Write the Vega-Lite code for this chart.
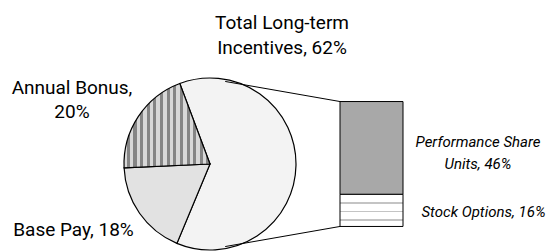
{
  "$schema": "https://vega.github.io/schema/vega-lite/v6.json",
  "width": 551,
  "height": 251,
  "autosize": {"type": "fit", "contains": "padding"},
  "padding": 0,
  "background": "white",
  "config": {"view": {"stroke": null}},
  "datasets": {
    "slices": [
      {"category": "Total Long-term Incentives", "value": 62, "label": ["Total Long-term", "Incentives, 62%"]},
      {"category": "Base Pay", "value": 18, "label": ["Base Pay, 18%"]},
      {"category": "Annual Bonus", "value": 20, "label": ["Annual Bonus,", "20%"]}
    ],
    "lti": [
      {"component": "Stock Options", "value": 16, "label": ["Stock Options, 16%"]},
      {"component": "Performance Share Units", "value": 46, "label": ["Performance Share", "Units, 46%"]}
    ]
  },
  "layer": [
    {
      "data": {"name": "slices"},
      "mark": {"type": "arc", "outerRadius": 86, "stroke": "black", "strokeWidth": 1.2},
      "encoding": {
        "theta": {"field": "value", "type": "quantitative", "stack": true, "scale": {"range": [-0.3588, 5.9244]}},
        "x": {"datum": 210, "type": "quantitative", "scale": {"domain": [0, 551], "nice": false, "zero": false}, "axis": null},
        "y": {"datum": 31, "type": "quantitative", "scale": {"domain": [-9.2, 112.4], "nice": false, "zero": false}, "axis": null},
        "fill": {
          "condition": [
            {"test": "datum.category === 'Annual Bonus'", "value": {
              "gradient": "linear", "x1": 0, "y1": 0, "x2": 1, "y2": 0,
              "stops": [
                {"offset": 0, "color": "#d8d8d8"},
                {"offset": 0.0314, "color": "#d8d8d8"}, {"offset": 0.0314, "color": "#858585"}, {"offset": 0.0686, "color": "#858585"}, {"offset": 0.0686, "color": "#d8d8d8"},
                {"offset": 0.1087, "color": "#d8d8d8"}, {"offset": 0.1087, "color": "#858585"}, {"offset": 0.1459, "color": "#858585"}, {"offset": 0.1459, "color": "#d8d8d8"},
                {"offset": 0.1860, "color": "#d8d8d8"}, {"offset": 0.1860, "color": "#858585"}, {"offset": 0.2233, "color": "#858585"}, {"offset": 0.2233, "color": "#d8d8d8"},
                {"offset": 0.2634, "color": "#d8d8d8"}, {"offset": 0.2634, "color": "#858585"}, {"offset": 0.3006, "color": "#858585"}, {"offset": 0.3006, "color": "#d8d8d8"},
                {"offset": 0.3407, "color": "#d8d8d8"}, {"offset": 0.3407, "color": "#858585"}, {"offset": 0.3779, "color": "#858585"}, {"offset": 0.3779, "color": "#d8d8d8"},
                {"offset": 0.4180, "color": "#d8d8d8"}, {"offset": 0.4180, "color": "#858585"}, {"offset": 0.4552, "color": "#858585"}, {"offset": 0.4552, "color": "#d8d8d8"},
                {"offset": 0.4953, "color": "#d8d8d8"}, {"offset": 0.4953, "color": "#858585"}, {"offset": 0.5326, "color": "#858585"}, {"offset": 0.5326, "color": "#d8d8d8"},
                {"offset": 0.5727, "color": "#d8d8d8"}, {"offset": 0.5727, "color": "#858585"}, {"offset": 0.6099, "color": "#858585"}, {"offset": 0.6099, "color": "#d8d8d8"},
                {"offset": 0.6500, "color": "#d8d8d8"}, {"offset": 0.6500, "color": "#858585"}, {"offset": 0.6872, "color": "#858585"}, {"offset": 0.6872, "color": "#d8d8d8"},
                {"offset": 0.7273, "color": "#d8d8d8"}, {"offset": 0.7273, "color": "#858585"}, {"offset": 0.7645, "color": "#858585"}, {"offset": 0.7645, "color": "#d8d8d8"},
                {"offset": 0.8047, "color": "#d8d8d8"}, {"offset": 0.8047, "color": "#858585"}, {"offset": 0.8419, "color": "#858585"}, {"offset": 0.8419, "color": "#d8d8d8"},
                {"offset": 0.8820, "color": "#d8d8d8"}, {"offset": 0.8820, "color": "#858585"}, {"offset": 0.9192, "color": "#858585"}, {"offset": 0.9192, "color": "#d8d8d8"},
                {"offset": 0.9593, "color": "#d8d8d8"}, {"offset": 0.9593, "color": "#858585"}, {"offset": 0.9965, "color": "#858585"}, {"offset": 0.9965, "color": "#d8d8d8"},
                {"offset": 1, "color": "#d8d8d8"}
              ]
            }},
            {"test": "datum.category === 'Base Pay'", "value": "#e2e2e2"}
          ],
          "value": "#f3f3f3"
        }
      }
    },
    {
      "data": {"name": "lti"},
      "transform": [{"stack": "value", "groupby": [], "as": ["v0", "v1"]}],
      "mark": {"type": "rect", "stroke": "black", "strokeWidth": 1},
      "encoding": {
        "y": {"field": "v0", "type": "quantitative", "scale": {"domain": [-9.2, 112.4], "nice": false, "zero": false}, "axis": null},
        "y2": {"field": "v1"},
        "x": {"datum": 340, "type": "quantitative", "scale": {"domain": [0, 551], "nice": false, "zero": false}, "axis": null},
        "x2": {"datum": 403},
        "fill": {
          "condition": {"test": "datum.component === 'Stock Options'", "value": {
            "gradient": "linear", "x1": 0, "y1": 0, "x2": 0, "y2": 1,
            "stops": [
              {"offset": 0, "color": "#ffffff"},
              {"offset": 0.25, "color": "#ffffff"}, {"offset": 0.25, "color": "#c4c4c4"}, {"offset": 0.31, "color": "#c4c4c4"}, {"offset": 0.31, "color": "#ffffff"},
              {"offset": 0.505, "color": "#ffffff"}, {"offset": 0.505, "color": "#c4c4c4"}, {"offset": 0.565, "color": "#c4c4c4"}, {"offset": 0.565, "color": "#ffffff"},
              {"offset": 0.76, "color": "#ffffff"}, {"offset": 0.76, "color": "#c4c4c4"}, {"offset": 0.82, "color": "#c4c4c4"}, {"offset": 0.82, "color": "#ffffff"},
              {"offset": 1, "color": "#ffffff"}
            ]
          }},
          "value": "#a8a8a8"
        }
      }
    },
    {
      "data": {"values": [{}]},
      "mark": {"type": "rule", "stroke": "black", "strokeWidth": 1},
      "encoding": {
        "x": {"datum": 225.2, "type": "quantitative", "scale": {"domain": [0, 551], "nice": false, "zero": false}, "axis": null},
        "y": {"datum": 71.97, "type": "quantitative", "scale": {"domain": [-9.2, 112.4], "nice": false, "zero": false}, "axis": null},
        "x2": {"datum": 340},
        "y2": {"datum": 62}
      }
    },
    {
      "data": {"values": [{}]},
      "mark": {"type": "rule", "stroke": "black", "strokeWidth": 1},
      "encoding": {
        "x": {"datum": 225.2, "type": "quantitative", "scale": {"domain": [0, 551], "nice": false, "zero": false}, "axis": null},
        "y": {"datum": -9.97, "type": "quantitative", "scale": {"domain": [-9.2, 112.4], "nice": false, "zero": false}, "axis": null},
        "x2": {"datum": 340},
        "y2": {"datum": 0}
      }
    },
    {
      "data": {"name": "slices"},
      "transform": [{"filter": "datum.category === 'Total Long-term Incentives'"}],
      "mark": {"type": "text", "font": "Roboto", "fontSize": 19, "lineHeight": 25, "align": "center", "baseline": "alphabetic", "color": "black"},
      "encoding": {
        "text": {"field": "label"},
        "x": {"datum": 282, "type": "quantitative", "scale": {"domain": [0, 551], "nice": false, "zero": false}, "axis": null},
        "y": {"datum": 97.87, "type": "quantitative", "scale": {"domain": [-9.2, 112.4], "nice": false, "zero": false}, "axis": null}
      }
    },
    {
      "data": {"name": "slices"},
      "transform": [{"filter": "datum.category === 'Annual Bonus'"}],
      "mark": {"type": "text", "font": "Roboto", "fontSize": 19, "lineHeight": 24, "align": "center", "baseline": "alphabetic", "color": "black"},
      "encoding": {
        "text": {"field": "label"},
        "x": {"datum": 72, "type": "quantitative", "scale": {"domain": [0, 551], "nice": false, "zero": false}, "axis": null},
        "y": {"datum": 65.89, "type": "quantitative", "scale": {"domain": [-9.2, 112.4], "nice": false, "zero": false}, "axis": null}
      }
    },
    {
      "data": {"name": "slices"},
      "transform": [{"filter": "datum.category === 'Base Pay'"}],
      "mark": {"type": "text", "font": "Roboto", "fontSize": 19, "align": "center", "baseline": "alphabetic", "color": "black"},
      "encoding": {
        "text": {"field": "label"},
        "x": {"datum": 73.5, "type": "quantitative", "scale": {"domain": [0, 551], "nice": false, "zero": false}, "axis": null},
        "y": {"datum": -4.69, "type": "quantitative", "scale": {"domain": [-9.2, 112.4], "nice": false, "zero": false}, "axis": null}
      }
    },
    {
      "data": {"name": "lti"},
      "transform": [{"filter": "datum.component === 'Performance Share Units'"}],
      "mark": {"type": "text", "font": "Roboto", "fontSize": 15, "fontStyle": "italic", "lineHeight": 22, "align": "center", "baseline": "alphabetic", "color": "black"},
      "encoding": {
        "text": {"field": "label"},
        "x": {"datum": 478, "type": "quantitative", "scale": {"domain": [0, 551], "nice": false, "zero": false}, "axis": null},
        "y": {"datum": 39.25, "type": "quantitative", "scale": {"domain": [-9.2, 112.4], "nice": false, "zero": false}, "axis": null}
      }
    },
    {
      "data": {"name": "lti"},
      "transform": [{"filter": "datum.component === 'Stock Options'"}],
      "mark": {"type": "text", "font": "Roboto", "fontSize": 15, "fontStyle": "italic", "align": "center", "baseline": "alphabetic", "color": "black"},
      "encoding": {
        "text": {"field": "label"},
        "x": {"datum": 483.5, "type": "quantitative", "scale": {"domain": [0, 551], "nice": false, "zero": false}, "axis": null},
        "y": {"datum": 4.85, "type": "quantitative", "scale": {"domain": [-9.2, 112.4], "nice": false, "zero": false}, "axis": null}
      }
    }
  ]
}
